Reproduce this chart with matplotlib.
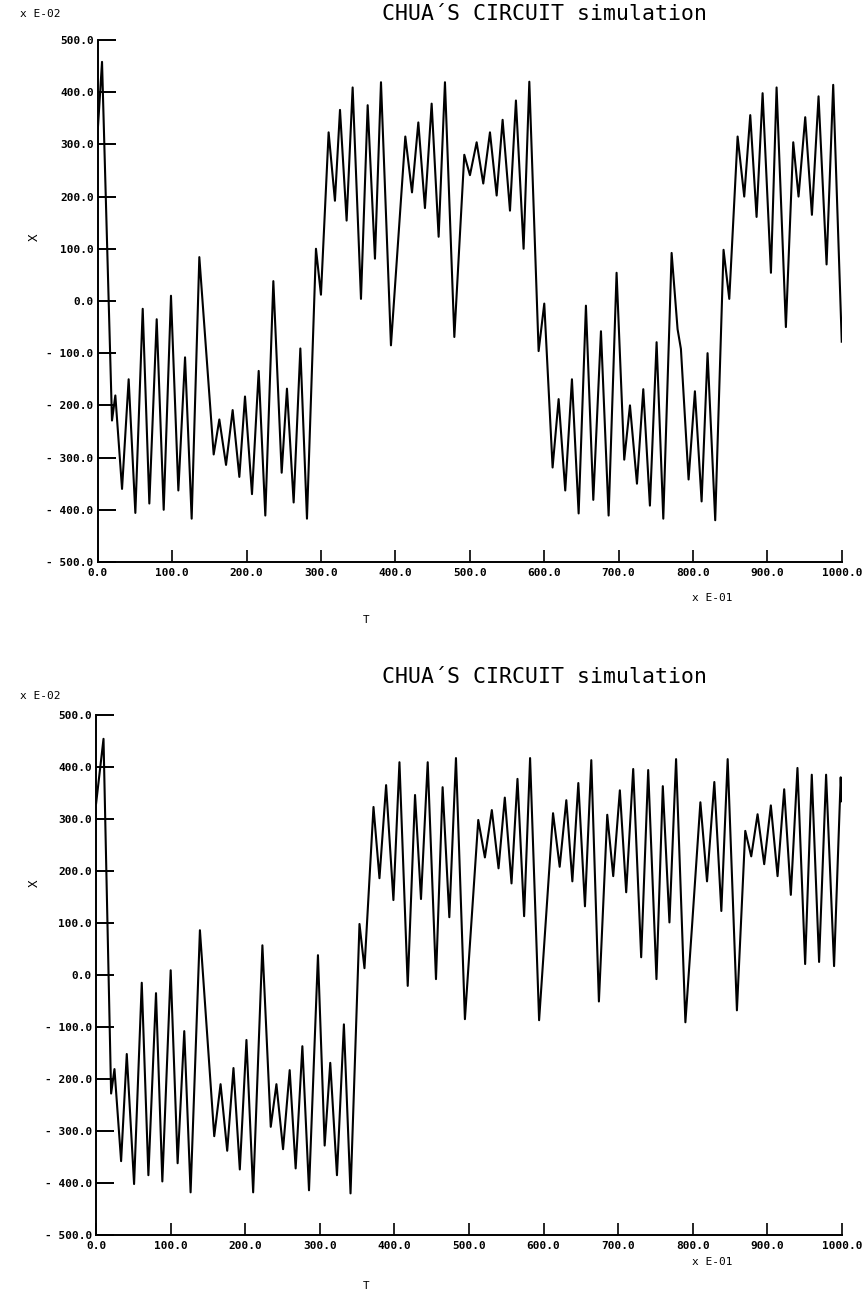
import matplotlib
matplotlib.use('Agg')
import matplotlib.pyplot as plt

# peaks / troughs (T in units of E-01, X in units of E-02)
top_t = [0, 5.6, 19.0, 23.5, 32.5, 41.4, 50.4, 60.3, 69.2, 79.1,
         88.5, 98.3, 108.2, 117.2, 126.1, 136.4, 155.7, 163.3, 172.3, 181.2,
         190.2, 197.8, 207.2, 216.2, 225.1, 235.9, 247.1, 254.2, 263.2, 272.2,
         281.1, 293.2, 299.9, 310.2, 318.7, 325.5, 334.4, 342.5, 353.7, 362.7,
         372.5, 380.6, 394.0, 413.3, 422.3, 430.8, 439.7, 448.7, 458.1, 466.6,
         479.2, 492.6, 500.2, 509.2, 518.1, 527.1, 536.1, 544.1, 554.0, 562.0,
         572.3, 580.0, 592.5, 600.1, 611.3, 619.4, 628.3, 637.3, 646.3, 656.1,
         666.0, 676.3, 686.6, 697.3, 707.6, 715.3, 724.7, 733.2, 742.1, 751.1,
         760.1, 771.3, 779.3, 783.8, 794.1, 802.6, 811.6, 819.6, 829.9, 841.1,
         848.8, 860.0, 868.9, 877.0, 885.5, 893.6, 904.8, 912.4, 924.9, 934.8,
         941.9, 950.9, 959.9, 968.8, 979.6, 988.5, 1000]
top_x = [330, 458, -229, -181, -360, -150, -406, -15, -388, -35,
         -400, 10, -363, -108, -417, 84, -294, -227, -314, -209,
         -337, -183, -370, -134, -411, 38, -329, -168, -386, -91,
         -417, 100, 12, 323, 192, 366, 154, 409, 4, 375,
         81, 419, -85, 315, 208, 342, 178, 378, 123, 419,
         -69, 280, 241, 304, 225, 323, 202, 347, 173, 384,
         100, 420, -96, -5, -319, -188, -363, -150, -407, -9,
         -381, -58, -411, 54, -304, -200, -350, -169, -392, -79,
         -417, 92, -54, -92, -342, -173, -384, -100, -420, 98,
         4, 315, 200, 356, 161, 398, 54, 409, -50, 304,
         200, 352, 165, 392, 70, 414, -78]

# second plot
bot_t = [0, 9.9, 20.1, 24.6, 33.5, 41.1, 50.9, 61.2, 70.1, 80.3,
         88.8, 100.0, 109.3, 118.2, 126.7, 139.2, 158.4, 166.9, 175.8, 184.2,
         192.7, 201.6, 210.6, 223.0, 234.2, 241.8, 250.7, 259.6, 267.6, 276.6,
         285.5, 297.5, 306.5, 314.0, 323.0, 332.3, 341.2, 353.2, 359.9, 372.0,
         380.0, 388.9, 398.7, 406.8, 417.9, 427.7, 435.7, 444.7, 455.8, 464.7,
         473.7, 482.6, 494.6, 512.5, 521.4, 530.7, 539.7, 548.1, 557.1, 565.1,
         574.0, 582.0, 594.1, 612.8, 621.7, 630.6, 638.7, 646.7, 655.6, 664.1,
         674.3, 685.5, 693.5, 702.4, 710.9, 720.3, 731.0, 740.4, 751.5, 760.0,
         768.9, 777.8, 790.3, 799.2, 810.4, 819.3, 829.1, 838.5, 847.0, 859.4,
         870.6, 878.6, 887.1, 896.0, 904.9, 913.9, 922.8, 931.7, 940.6, 950.9,
         959.8, 969.6, 979.0, 989.7, 998.6, 1000]
bot_x = [330, 454, -228, -181, -358, -152, -402, -15, -385, -35,
         -397, 9, -362, -108, -418, 86, -310, -210, -338, -179,
         -374, -125, -418, 57, -292, -210, -335, -183, -372, -137,
         -414, 38, -328, -169, -385, -95, -420, 98, 13, 323,
         186, 365, 144, 409, -21, 346, 146, 409, -8, 361,
         111, 417, -85, 298, 226, 317, 205, 341, 176, 377,
         113, 417, -87, 311, 208, 336, 180, 369, 132, 413,
         -51, 308, 190, 355, 159, 396, 34, 394, -8, 363,
         101, 415, -91, 94, 332, 180, 371, 123, 415, -68,
         277, 228, 309, 213, 326, 190, 357, 154, 398, 21,
         385, 25, 385, 17, 380, 334]

y_ticks = [-500, -400, -300, -200, -100, 0, 100, 200, 300, 400, 500]
y_labels = ['- 500.0', '- 400.0', '- 300.0', '- 200.0', '- 100.0', '0.0',
            '100.0', '200.0', '300.0', '400.0', '500.0']
x_ticks = [0, 100, 200, 300, 400, 500, 600, 700, 800, 900, 1000]
x_labels = ['0.0', '100.0', '200.0', '300.0', '400.0', '500.0', '600.0',
            '700.0', '800.0', '900.0', '1000.0']
title = 'CHUA\u00b4S CIRCUIT simulation'

mono = 'DejaVu Sans Mono'

fig = plt.figure(figsize=(8.66, 12.97), dpi=100)

panels = [
    # axes rect, t, x, title y, "x E-02" y, "X" y, "T" y, "x E-01" y
    ([0.113, 0.5667, 0.859, 0.4025], top_t, top_x, 0.989, 0.989, 0.817, 0.522, 0.539),
    ([0.111, 0.0478, 0.861, 0.401], bot_t, bot_x, 0.478, 0.463, 0.319, 0.0085, 0.027),
]

for rect, t, x, ty, ey, xy, Ty, e1y in panels:
    ax = fig.add_axes(rect)
    ax.plot(t, x, color='black', linewidth=1.5, solid_joinstyle='round')
    ax.set_xlim(0, 1000)
    ax.set_ylim(-500, 500)
    ax.spines['top'].set_visible(False)
    ax.spines['right'].set_visible(False)
    ax.spines['left'].set_linewidth(1.4)
    ax.spines['bottom'].set_linewidth(1.4)
    ax.set_yticks(y_ticks)
    ax.set_yticklabels(y_labels, fontfamily=mono, fontweight='bold', fontsize=8)
    ax.set_xticks(x_ticks)
    ax.set_xticklabels(x_labels, fontfamily=mono, fontweight='bold', fontsize=8)
    ax.tick_params(axis='y', direction='in', length=13, width=1.4, pad=3)
    ax.tick_params(axis='x', direction='in', length=9, width=1.2, pad=4)

    fig.text(0.629, ty, title, fontfamily=mono, fontsize=15.5, ha='center', va='center')
    fig.text(0.023, ey, 'x E-02', fontfamily=mono, fontsize=8, ha='left', va='center')
    fig.text(0.040, xy, 'X', fontfamily=mono, fontsize=9, rotation=90, ha='center', va='center')
    fig.text(0.423, Ty, 'T', fontfamily=mono, fontsize=8, ha='center', va='center')
    fig.text(0.822, e1y, 'x E-01', fontfamily=mono, fontsize=8, ha='center', va='center')

plt.savefig('out.png', dpi=100)
